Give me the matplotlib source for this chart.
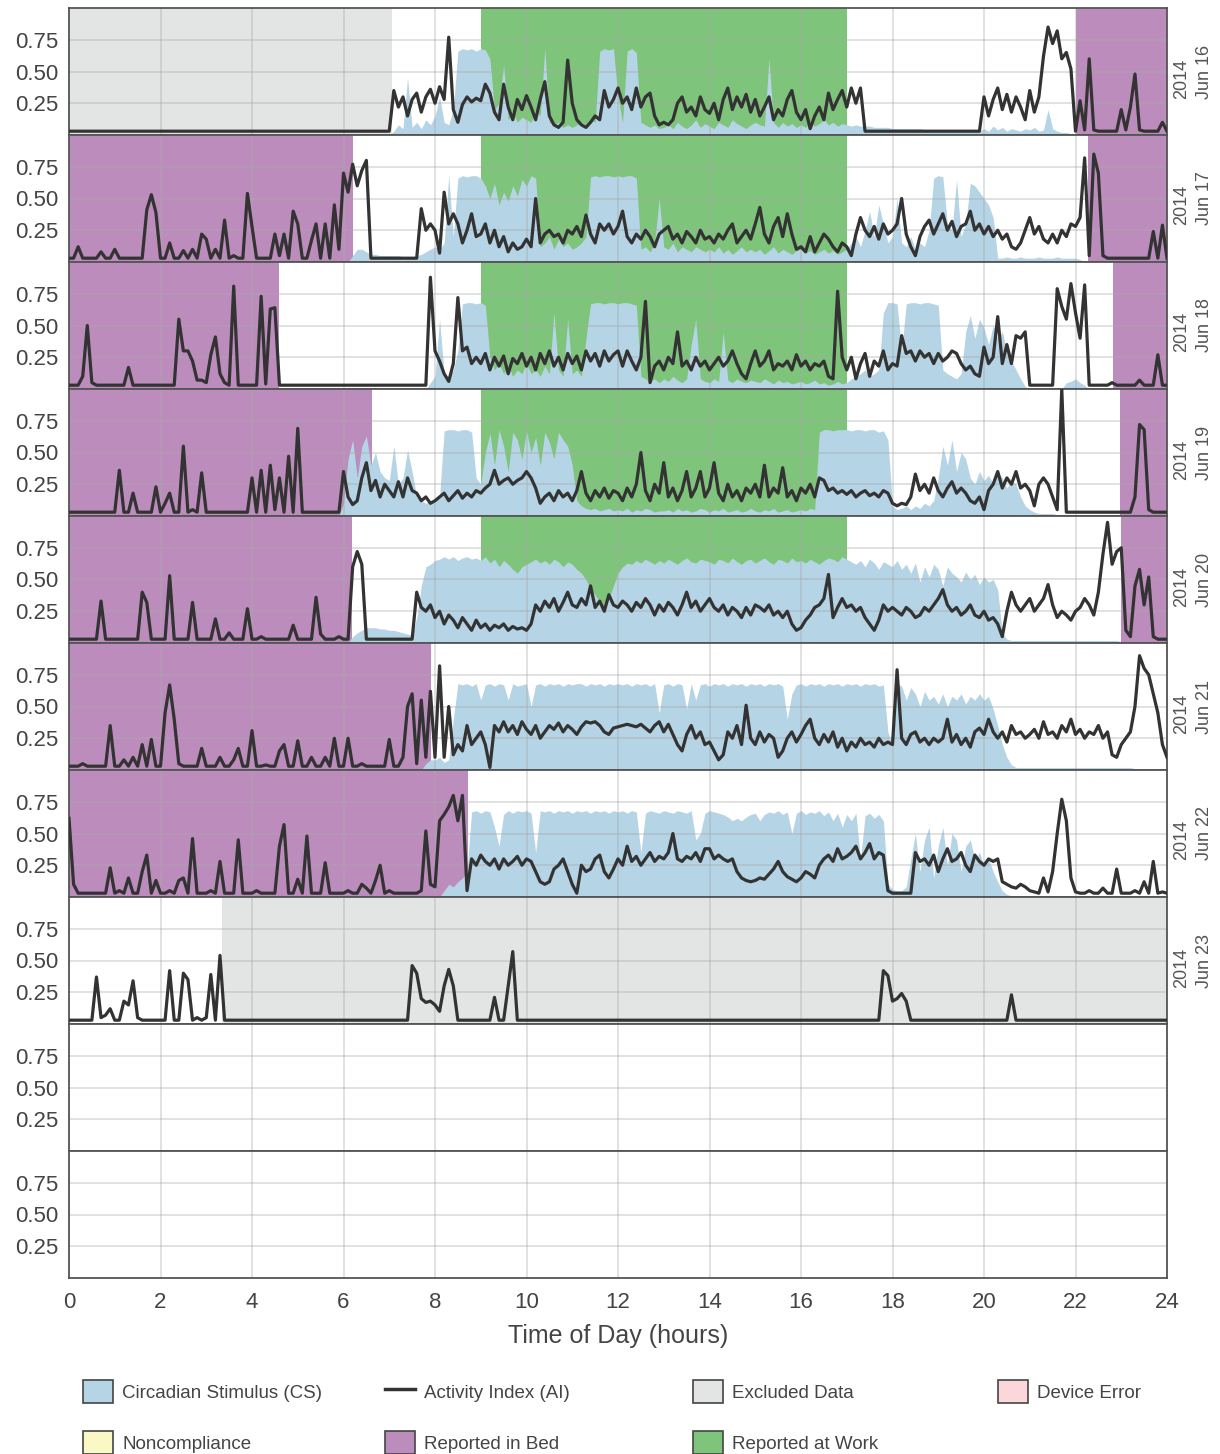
import numpy as np
import matplotlib
matplotlib.use("Agg")
import matplotlib.pyplot as plt
from matplotlib.patches import Patch
from matplotlib.lines import Line2D

plt.rcParams['font.family'] = ['Liberation Sans', 'DejaVu Sans']

# ---------------- data ----------------
year = "2014"
days = ["Jun 16", "Jun 17", "Jun 18", "Jun 19", "Jun 20", "Jun 21", "Jun 22", "Jun 23"]
n_panels = 10
hours = np.linspace(0, 24, 241)          # samples every 0.1 h

# Activity Index (AI), in hundredths, one row per hour (10 samples) + value at 24 h
ai_jun16 = [
 3,3,3,3,3,3,3,3,3,3,
 3,3,3,3,3,3,3,3,3,3,
 3,3,3,3,3,3,3,3,3,3,
 3,3,3,3,3,3,3,3,3,3,
 3,3,3,3,3,3,3,3,3,3,
 3,3,3,3,3,3,3,3,3,3,
 3,3,3,3,3,3,3,3,3,3,
 3,35,22,30,15,28,33,18,30,36,
 25,38,28,77,20,10,24,30,26,29,
 27,40,33,18,12,40,22,12,28,20,
 31,22,12,28,42,15,8,6,10,59,
 25,12,8,6,10,15,12,35,22,28,
 37,25,30,20,37,22,30,33,15,8,
 10,8,12,25,30,18,22,15,30,20,
 17,25,12,28,37,20,30,22,32,18,
 28,15,22,30,12,20,15,28,35,18,
 12,20,5,15,22,12,33,20,28,35,
 22,37,25,37,3,3,3,3,3,3,
 3,3,3,3,3,3,3,3,3,3,
 3,3,3,3,3,3,3,3,3,3,
 30,15,28,37,20,32,18,30,22,12,
 35,18,30,62,85,72,82,60,65,52,
 3,27,4,60,4,3,3,3,3,3,
 20,4,22,48,4,3,3,3,3,10,
 3]
cs_jun16 = [
 0,0,0,0,0,0,0,0,0,0,
 0,0,0,0,0,0,0,0,0,0,
 0,0,0,0,0,0,0,0,0,0,
 0,0,0,0,0,0,0,0,0,0,
 0,0,0,0,0,0,0,0,0,0,
 0,0,0,0,0,0,0,0,0,0,
 0,0,0,0,0,0,0,0,0,0,
 0,3,8,5,45,6,10,5,12,8,
 15,30,10,8,20,66,68,67,68,66,
 68,67,60,20,25,55,12,18,10,14,
 12,10,20,15,68,10,8,10,6,8,
 6,8,10,8,12,10,66,68,67,68,
 30,10,66,68,65,10,8,6,8,5,
 6,8,5,10,7,5,8,12,6,9,
 7,5,10,8,6,12,9,7,5,8,
 10,8,7,60,10,6,10,7,9,6,
 8,6,10,7,9,12,8,10,7,9,
 8,7,8,7,7,7,6,6,6,6,
 5,5,5,5,5,5,5,4,4,4,
 4,4,4,4,4,3,3,3,3,3,
 5,3,7,4,6,3,5,4,3,5,
 4,6,3,4,20,5,3,2,2,1,
 0,0,0,0,0,0,0,0,0,0,
 0,0,0,0,0,0,0,0,0,0,
 0]

ai_jun17 = [
 3,3,12,3,3,3,3,8,3,3,
 10,3,3,3,3,3,3,41,53,39,
 3,3,15,3,3,9,3,10,3,22,
 18,3,10,3,33,3,5,3,3,54,
 28,3,3,3,3,22,5,22,3,40,
 30,3,3,17,30,3,30,3,45,10,
 70,55,77,60,72,80,3,3,3,3,
 3,3,3,3,3,3,3,42,25,30,
 25,7,55,30,38,30,15,25,38,20,
 22,30,15,25,12,20,8,15,10,12,
 18,12,50,15,22,25,20,22,15,25,
 22,28,20,37,22,15,30,25,30,22,
 28,40,20,15,22,18,25,20,12,22,
 25,28,18,22,15,24,20,15,25,18,
 20,15,22,18,25,30,15,20,25,18,
 30,43,22,15,28,35,20,38,22,10,
 12,8,20,8,15,22,18,12,8,15,
 12,5,22,35,25,20,28,18,30,22,
 25,30,50,22,12,5,20,28,33,22,
 30,38,25,32,20,28,30,40,25,30,
 22,28,20,25,18,22,12,10,15,25,
 35,22,28,18,15,22,15,25,20,30,
 28,35,82,5,85,70,5,3,3,3,
 3,3,3,3,3,3,3,24,3,29,
 3]
cs_jun17 = [
 0,0,0,0,0,0,0,0,0,0,
 0,0,0,0,0,0,0,0,0,0,
 0,0,0,0,0,0,0,0,0,0,
 0,0,0,0,0,0,0,0,0,0,
 0,0,0,0,0,0,0,0,0,0,
 0,0,0,0,0,0,0,0,0,0,
 0,0,5,10,10,8,6,6,5,5,
 5,5,5,4,4,4,5,6,8,10,
 12,10,15,68,20,66,68,67,68,68,
 66,60,50,62,45,55,48,60,52,65,
 60,68,66,12,15,20,10,18,12,15,
 10,12,15,20,67,68,67,68,68,67,
 68,67,68,68,66,10,12,8,15,50,
 12,10,15,8,12,10,8,12,10,8,
 10,8,12,7,10,6,9,12,8,10,
 8,10,6,9,12,7,10,8,6,9,
 10,7,9,6,8,10,7,9,6,8,
 10,15,20,12,25,40,20,45,30,15,
 20,50,15,12,20,10,15,12,25,66,
 68,67,30,25,65,20,30,62,60,55,
 50,45,35,3,3,4,3,3,4,3,
 3,3,4,3,3,3,4,3,3,3,
 3,2,0,0,0,0,0,0,0,0,
 0,0,0,0,0,0,0,0,0,0,
 0]

ai_jun18 = [
 3,3,3,10,50,5,3,3,3,3,
 3,3,3,17,3,3,3,3,3,3,
 3,3,3,3,55,30,30,22,7,7,
 5,27,41,12,5,3,81,3,3,3,
 3,3,73,4,63,64,3,3,3,3,
 3,3,3,3,3,3,3,3,3,3,
 3,3,3,3,3,3,3,3,3,3,
 3,3,3,3,3,3,3,3,3,88,
 30,22,12,6,20,72,30,33,20,25,
 20,28,15,25,18,26,12,24,20,28,
 18,25,15,28,20,30,18,25,15,28,
 20,26,15,30,22,28,18,30,22,27,
 30,18,30,22,15,25,69,5,18,22,
 15,25,20,45,18,22,15,25,18,22,
 15,20,25,18,22,30,20,12,8,20,
 30,18,22,30,15,20,18,22,15,27,
 18,22,15,20,18,22,10,8,77,25,
 15,25,8,20,28,10,22,18,30,15,
 20,18,42,28,30,22,30,25,28,20,
 28,22,25,30,28,20,15,18,12,10,
 33,20,25,57,20,35,20,42,40,45,
 3,3,3,3,3,3,79,65,55,83,
 60,40,82,3,3,3,3,3,5,3,
 3,3,3,3,7,3,3,3,27,3,
 3]
cs_jun18 = [
 0,0,0,0,0,0,0,0,0,0,
 0,0,0,0,0,0,0,0,0,0,
 0,0,0,0,0,0,0,0,0,0,
 0,0,0,0,0,0,0,0,0,0,
 0,0,0,0,0,0,0,0,0,0,
 0,0,0,0,0,0,0,0,0,0,
 0,0,0,0,0,0,0,0,0,0,
 0,0,0,0,0,0,0,0,0,5,
 10,55,12,10,15,30,67,68,68,67,
 68,66,25,15,20,12,18,10,15,12,
 20,12,15,10,18,12,60,15,10,55,
 12,15,10,40,67,68,68,67,68,68,
 67,68,68,67,66,10,8,6,8,5,
 8,6,10,7,5,8,35,55,8,6,
 5,8,6,45,7,5,8,6,5,7,
 6,5,8,6,4,7,5,6,4,5,
 6,4,5,7,4,5,3,4,6,4,
 5,8,10,12,15,10,12,15,60,68,
 68,67,30,67,68,68,67,68,68,67,
 66,15,12,10,8,12,45,58,40,55,
 48,35,50,40,45,30,22,15,8,2,
 0,0,0,0,0,0,0,0,5,6,
 8,5,3,0,0,0,0,0,0,0,
 0,0,0,0,0,0,0,0,0,0,
 0]

ai_jun19 = [
 3,3,3,3,3,3,3,3,3,3,
 3,36,3,3,18,3,3,3,3,23,
 3,10,18,3,3,55,3,5,3,34,
 3,3,3,3,3,3,3,3,3,3,
 30,3,36,3,40,5,30,3,47,3,
 69,3,3,3,3,3,3,3,3,3,
 35,15,9,12,30,42,20,28,15,25,
 20,15,27,15,30,20,18,12,15,10,
 12,15,18,12,16,20,14,18,15,20,
 18,22,25,36,25,28,30,25,28,30,
 35,30,22,10,15,18,12,20,15,18,
 12,20,35,18,12,20,15,22,14,20,
 18,12,22,15,25,50,20,12,25,18,
 42,15,22,12,20,35,15,22,35,15,
 22,42,18,12,25,15,20,12,22,18,
 25,15,40,15,22,18,38,15,20,12,
 22,18,25,15,30,28,20,22,18,20,
 17,20,15,18,20,16,18,15,20,18,
 10,8,10,9,15,33,20,25,18,30,
 20,15,22,27,18,22,18,12,10,15,
 5,20,25,35,22,30,25,35,22,25,
 20,8,25,30,25,15,5,100,3,3,
 3,3,3,3,3,3,3,3,3,3,
 3,3,3,15,72,68,5,3,3,3,
 3]
cs_jun19 = [
 0,0,0,0,0,0,0,0,0,0,
 0,0,0,0,0,0,0,0,0,0,
 0,0,0,0,0,0,0,0,0,0,
 0,0,0,0,0,0,0,0,0,0,
 0,0,0,0,0,0,0,0,0,0,
 0,0,0,0,0,0,0,0,0,0,
 10,45,60,30,55,63,40,50,35,30,
 28,55,25,30,52,35,15,12,10,12,
 12,15,67,68,68,67,68,68,66,30,
 25,50,65,40,68,55,35,66,60,45,
 67,50,62,40,66,58,45,66,60,55,
 40,12,8,6,5,6,4,5,6,4,
 5,4,6,3,5,4,6,5,3,4,
 4,5,3,6,4,5,3,4,6,5,
 3,5,4,6,3,4,5,3,4,6,
 4,3,5,4,6,3,4,5,3,4,
 5,4,6,5,66,68,68,67,68,68,
 68,67,68,68,67,68,68,66,67,60,
 8,5,6,8,5,8,6,10,8,12,
 30,55,40,60,35,50,45,30,25,35,
 28,32,25,35,30,22,28,25,15,8,
 5,3,2,2,2,2,1,0,0,0,
 0,0,0,0,0,0,0,0,0,0,
 0,0,0,0,0,0,0,0,0,0,
 0]

ai_jun20 = [
 3,3,3,3,3,3,3,33,3,3,
 3,3,3,3,3,3,40,32,3,3,
 3,3,53,3,3,3,3,32,3,3,
 3,3,19,3,3,8,3,3,3,27,
 3,3,5,3,3,3,3,3,3,14,
 3,3,3,3,36,7,3,3,3,5,
 3,3,60,72,62,3,3,3,3,3,
 3,3,3,3,3,3,40,28,25,30,
 20,25,15,22,18,12,20,15,10,18,
 12,15,10,14,12,15,10,13,11,12,
 10,15,30,25,33,28,35,25,32,40,
 30,28,35,30,45,28,33,25,38,30,
 28,33,30,25,32,28,35,30,22,30,
 25,32,28,22,30,40,28,33,25,30,
 35,28,25,30,22,28,25,20,28,22,
 30,28,25,30,22,25,20,25,15,10,
 12,18,22,28,30,35,54,20,28,35,
 28,30,25,28,20,15,10,18,30,25,
 28,25,22,28,25,20,22,28,25,30,
 35,42,30,25,28,22,25,30,22,20,
 25,18,20,15,5,25,40,30,25,30,
 35,25,30,35,46,30,20,25,22,18,
 25,28,35,30,22,40,70,95,62,72,
 75,10,5,45,58,30,52,5,3,3,
 3]
cs_jun20 = [
 0,0,0,0,0,0,0,0,0,0,
 0,0,0,0,0,0,0,0,0,0,
 0,0,0,0,0,0,0,0,0,0,
 0,0,0,0,0,0,0,0,0,0,
 0,0,0,0,0,0,0,0,0,0,
 0,0,0,0,0,0,0,0,0,0,
 0,0,5,8,10,12,12,12,11,11,
 10,10,9,8,7,6,20,45,60,62,
 65,66,68,66,68,65,67,68,66,67,
 65,68,63,66,60,65,62,58,55,60,
 62,64,66,63,65,62,66,64,60,64,
 62,58,55,50,42,38,32,28,35,45,
 55,60,63,62,65,63,66,64,62,65,
 63,66,64,62,65,67,64,63,66,65,
 64,62,66,65,63,67,64,62,65,66,
 63,65,67,64,62,66,65,63,67,64,
 65,63,66,64,62,65,67,66,64,68,
 66,64,62,65,60,66,63,58,64,62,
 60,65,58,62,55,63,48,60,52,62,
 58,45,60,55,52,48,56,50,54,46,
 52,48,50,42,8,3,2,2,2,2,
 2,2,2,2,2,2,2,2,2,2,
 2,2,2,2,2,2,2,2,2,2,
 1,1,1,1,0,0,0,0,0,0,
 0]

ai_jun21 = [
 3,3,3,5,3,3,3,3,3,35,
 3,3,8,3,10,3,20,3,24,3,
 3,45,67,40,5,3,3,3,3,17,
 3,3,3,10,3,3,8,17,3,3,
 31,3,3,4,3,3,15,20,3,3,
 23,3,3,10,3,3,10,3,25,3,
 3,25,3,3,5,3,3,3,3,3,
 24,3,3,10,50,60,5,55,10,62,
 10,82,10,50,12,20,15,35,20,25,
 30,20,2,35,30,38,30,35,28,38,
 32,28,35,25,30,35,32,37,30,35,
 32,28,34,38,37,38,35,30,28,33,
 34,35,36,35,34,36,33,30,35,38,
 30,36,28,20,15,28,35,25,30,20,
 22,15,8,12,30,25,35,20,51,25,
 20,30,22,28,25,10,15,25,30,22,
 28,35,40,25,20,28,22,30,18,25,
 15,22,18,25,20,22,18,25,20,22,
 20,79,25,20,28,30,22,25,20,25,
 22,25,40,22,28,20,25,18,30,33,
 28,40,30,25,30,22,35,28,30,25,
 28,32,25,38,28,30,25,35,30,40,
 28,32,25,30,28,35,25,30,12,10,
 20,25,30,50,90,80,75,60,45,20,
 10]
cs_jun21 = [
 0,0,0,0,0,0,0,0,0,0,
 0,0,0,0,0,0,0,0,0,0,
 0,0,0,0,0,0,0,0,0,0,
 0,0,0,0,0,0,0,0,0,0,
 0,0,0,0,0,0,0,0,0,0,
 0,0,0,0,0,0,0,0,0,0,
 0,0,0,0,0,0,0,0,0,0,
 0,0,0,0,0,0,0,0,5,8,
 8,10,6,8,40,68,67,68,66,68,
 55,67,68,66,68,67,55,68,66,67,
 68,50,67,68,66,68,67,68,66,68,
 67,68,68,66,68,67,68,66,68,67,
 68,67,68,66,68,67,68,66,68,45,
 67,68,66,68,67,48,68,55,67,68,
 66,68,67,68,66,68,67,68,66,68,
 67,68,66,68,67,68,66,40,60,67,
 68,66,68,67,68,66,68,67,68,66,
 68,67,68,66,68,67,68,66,67,30,
 20,68,66,55,65,60,50,62,55,58,
 52,60,50,58,55,60,52,58,55,60,
 55,58,48,35,20,10,4,2,2,2,
 2,2,2,2,2,2,2,2,2,2,
 2,2,2,2,2,2,2,2,2,2,
 2,2,2,1,1,1,1,1,1,1,
 1]

ai_jun22 = [
 62,10,3,3,3,3,3,3,3,23,
 3,5,3,15,3,3,20,33,3,13,
 3,3,5,3,13,15,3,46,3,3,
 3,5,3,28,3,3,3,45,3,3,
 3,5,3,3,3,3,40,57,3,3,
 14,3,48,3,3,3,27,3,3,3,
 3,5,3,3,10,7,3,13,25,3,
 5,3,3,3,3,3,3,5,52,10,
 8,60,65,71,80,60,80,5,30,25,
 33,28,25,30,22,30,25,28,32,25,
 30,28,20,12,10,12,22,25,30,20,
 10,3,25,20,22,30,33,20,15,22,
 30,25,40,28,32,25,30,35,28,32,
 30,35,50,30,28,32,30,35,28,38,
 38,30,33,30,28,30,20,15,13,12,
 13,15,14,18,22,28,20,16,14,12,
 15,20,18,15,25,30,33,28,38,30,
 32,35,40,30,35,42,30,35,33,5,
 3,3,3,3,3,35,28,30,25,33,
 20,30,38,28,30,35,25,20,33,28,
 25,30,28,30,12,10,8,7,10,8,
 5,4,3,15,4,20,50,77,60,15,
 4,3,3,5,3,3,7,3,3,22,
 3,3,3,5,3,12,3,28,3,4,
 3]
cs_jun22 = [
 0,0,0,0,0,0,0,0,0,0,
 0,0,0,0,0,0,0,0,0,0,
 0,0,0,0,0,0,0,0,0,0,
 0,0,0,0,0,0,0,0,0,0,
 0,0,0,0,0,0,0,0,0,0,
 0,0,0,0,0,0,0,0,0,0,
 0,0,0,0,0,0,0,0,0,0,
 0,0,0,0,0,0,0,0,0,0,
 0,0,5,10,8,12,15,20,67,68,
 66,68,67,55,40,65,68,66,68,67,
 68,66,35,68,67,68,66,68,67,68,
 66,68,67,68,66,68,67,68,66,68,
 67,68,66,68,67,35,66,68,67,66,
 68,67,66,68,67,66,68,45,50,66,
 68,67,66,65,63,60,62,60,63,65,
 66,60,65,67,66,68,65,67,50,66,
 68,65,67,66,68,64,67,60,66,55,
 65,60,66,30,64,66,62,65,60,10,
 6,5,5,8,30,50,20,45,55,15,
 40,55,25,50,45,20,40,45,30,35,
 25,30,20,12,5,2,1,0,0,0,
 0,0,0,0,0,0,0,0,0,0,
 0,0,0,0,0,0,0,0,0,0,
 0,0,0,0,0,0,0,0,0,0,
 0]

ai_jun23 = [
 3,3,3,3,3,3,37,5,7,12,
 3,3,18,15,34,5,3,3,3,3,
 3,3,42,3,3,40,35,3,5,3,
 5,39,3,54,3,3,3,3,3,3,
 3,3,3,3,3,3,3,3,3,3,
 3,3,3,3,3,3,3,3,3,3,
 3,3,3,3,3,3,3,3,3,3,
 3,3,3,3,3,46,40,20,17,18,
 15,10,30,43,30,3,3,3,3,3,
 3,3,3,21,3,3,30,57,3,3,
 3,3,3,3,3,3,3,3,3,3,
 3,3,3,3,3,3,3,3,3,3,
 3,3,3,3,3,3,3,3,3,3,
 3,3,3,3,3,3,3,3,3,3,
 3,3,3,3,3,3,3,3,3,3,
 3,3,3,3,3,3,3,3,3,3,
 3,3,3,3,3,3,3,3,3,3,
 3,3,3,3,3,3,3,3,42,38,
 18,20,24,18,3,3,3,3,3,3,
 3,3,3,3,3,3,3,3,3,3,
 3,3,3,3,3,3,23,3,3,3,
 3,3,3,3,3,3,3,3,3,3,
 3,3,3,3,3,3,3,3,3,3,
 3,3,3,3,3,3,3,3,3,3,
 3]
cs_jun23 = None   # no light exposure visible

ai_series = [ai_jun16, ai_jun17, ai_jun18, ai_jun19, ai_jun20, ai_jun21, ai_jun22, ai_jun23]
cs_series = [cs_jun16, cs_jun17, cs_jun18, cs_jun19, cs_jun20, cs_jun21, cs_jun22, cs_jun23]

# shaded periods: (day, start hour, end hour)
excluded_spans = [("Jun 16", 0.0, 7.05), ("Jun 23", 3.34, 24.0)]
bed_spans = [("Jun 16", 22.0, 24.0), ("Jun 17", 0.0, 6.2), ("Jun 17", 22.27, 24.0),
             ("Jun 18", 0.0, 4.58), ("Jun 18", 22.82, 24.0), ("Jun 19", 0.0, 6.63),
             ("Jun 19", 22.98, 24.0), ("Jun 20", 0.0, 6.19), ("Jun 20", 23.0, 24.0),
             ("Jun 21", 0.0, 7.92), ("Jun 22", 0.0, 8.73)]
work_spans = [("Jun 16", 9.0, 17.0), ("Jun 17", 9.0, 17.0), ("Jun 18", 9.0, 17.0),
              ("Jun 19", 9.0, 17.0), ("Jun 20", 9.0, 17.0)]

y_ticks = [0.25, 0.5, 0.75]
y_ticklabels = ["0.25", "0.50", "0.75"]
x_ticks = list(range(0, 25, 2))

for name, s in zip(days, ai_series):
    assert len(s) == 241, (name, "ai", len(s))
for name, s in zip(days, cs_series):
    if s is not None:
        assert len(s) == 241, (name, "cs", len(s))

# ---------------- style ----------------
C_CS = "#b5d4e5"
C_AI = "#333333"
C_EXCL = "#e3e4e4"
C_ERR = "#fbd6da"
C_NONC = "#faf8c4"
C_BED = "#bc8dbc"
C_WORK = "#7fc47b"
C_TEXT = "#444444"
C_SPINE = "#555555"

W, H = 1220, 1454
fig = plt.figure(figsize=(W / 100, H / 100), dpi=100)
left_px, right_px, top_px, panel_px = 69, 1167, 8, 127

axes = []
for i in range(n_panels):
    y0 = 1 - (top_px + panel_px * (i + 1)) / H
    ax = fig.add_axes([left_px / W, y0, (right_px - left_px) / W, panel_px / H])
    ax.set_xlim(0, 24)
    ax.set_ylim(0, 1.0)
    ax.set_yticks(y_ticks)
    ax.set_yticklabels(y_ticklabels)
    ax.set_xticks(x_ticks)
    ax.grid(True, color="#a8a8a8", lw=1.1, alpha=0.45)
    ax.tick_params(length=0, labelsize=16, colors=C_TEXT, pad=8)
    ax.tick_params(axis="x", pad=10)
    for sp in ax.spines.values():
        sp.set_color(C_SPINE)
        sp.set_linewidth(1.3)
    if i < n_panels - 1:
        ax.tick_params(labelbottom=False)
    axes.append(ax)

day_index = {d: k for k, d in enumerate(days)}
for spans, col in ((excluded_spans, C_EXCL), (bed_spans, C_BED), (work_spans, C_WORK)):
    for d, a, b in spans:
        axes[day_index[d]].axvspan(a, b, color=col, lw=0, zorder=0.5)

for k, d in enumerate(days):
    ax = axes[k]
    cs = cs_series[k]
    if cs is not None:
        ax.fill_between(hours, 0, np.array(cs) / 100.0, color=C_CS, lw=0, zorder=1)
    ax.plot(hours, np.array(ai_series[k]) / 100.0, color=C_AI, lw=2.3, zorder=3,
            solid_joinstyle="round")
    ax.text(1.006, 0.5, f"{year}\n{d}", transform=ax.transAxes, rotation=90,
            ha="left", va="center", fontsize=13, color="#555555", linespacing=1.45)

axes[-1].set_xlabel("Time of Day (hours)", fontsize=18, color=C_TEXT, labelpad=8)

# ---------------- legend ----------------
def patch(c):
    return Patch(facecolor=c, edgecolor="#444444", linewidth=1.2)

legend_cols = [
    (83, [patch(C_CS), patch(C_NONC)], ["Circadian Stimulus (CS)", "Noncompliance"]),
    (385, [Line2D([], [], color=C_AI, lw=2.5), patch(C_BED)], ["Activity Index (AI)", "Reported in Bed"]),
    (693, [patch(C_EXCL), patch(C_WORK)], ["Excluded Data", "Reported at Work"]),
    (998, [patch(C_ERR)], ["Device Error"]),
]
for x_px, handles, labels in legend_cols:
    leg = fig.legend(handles, labels, loc="upper left",
                     bbox_to_anchor=(x_px / W, 1 - 1380 / H),
                     frameon=False, fontsize=13.5, handlelength=1.6, handleheight=1.5,
                     handletextpad=0.5, labelspacing=1.5, borderpad=0, borderaxespad=0)
    for t in leg.get_texts():
        t.set_color(C_TEXT)

fig.savefig("out.png", dpi=100)
